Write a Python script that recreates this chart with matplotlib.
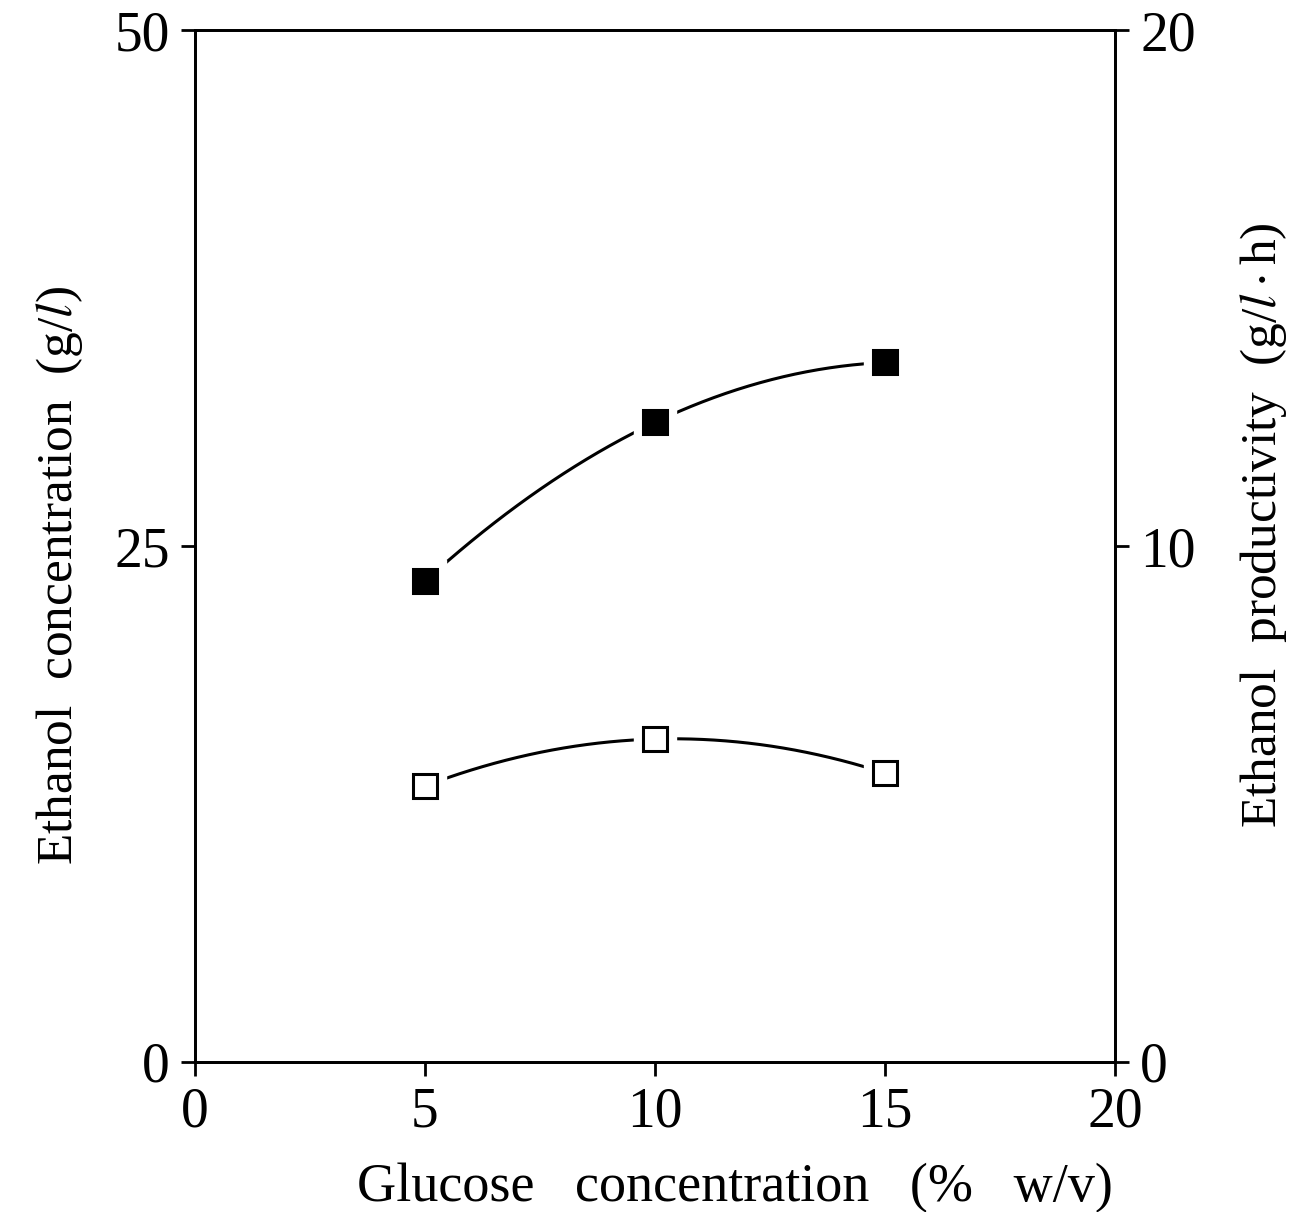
import numpy as np
import matplotlib.pyplot as plt

# glucose concentration (% w/v)
glucose = [5, 10, 15]
# ethanol concentration (g/l), filled squares, left axis
ethanol_conc = [23.3, 31.0, 33.9]
# ethanol productivity (g/l.h), open squares, right axis
ethanol_prod = [5.35, 6.26, 5.6]

plt.rcParams['font.family'] = ['Liberation Serif', 'DejaVu Serif']
plt.rcParams['mathtext.fontset'] = 'stix'

fig = plt.figure(figsize=(13.11, 12.12), dpi=100)
ax1 = fig.add_axes([0.1487, 0.1238, 0.7018, 0.8512])
ax2 = ax1.twinx()

def draw_series(ax, x, y, face):
    # smooth curve through the three points
    coef = np.polyfit(x, y, 2)
    xs = np.linspace(x[0], x[-1], 200)
    ax.plot(xs, np.polyval(coef, xs), color='black', lw=2.2, zorder=2)
    # white halo to leave a gap between curve and marker
    ax.plot(x, y, ls='none', marker='s', ms=30, color='white', zorder=3)
    ax.plot(x, y, ls='none', marker='s', ms=17, mfc=face, mec='black',
            mew=2.2, zorder=4)

draw_series(ax1, glucose, ethanol_conc, 'black')
draw_series(ax2, glucose, ethanol_prod, 'white')

ax1.set_xlim(0, 20)
ax1.set_ylim(0, 50)
ax2.set_ylim(0, 20)
ax1.set_xticks([0, 5, 10, 15, 20])
ax1.set_yticks([0, 25, 50])
ax2.set_yticks([0, 10, 20])

for ax in (ax1, ax2):
    for sp in ax.spines.values():
        sp.set_linewidth(2)
    ax.tick_params(direction='out', length=10, width=2, labelsize=40, pad=8)

ax1.set_xlabel('Glucose   concentration   (%   w/v)', fontsize=39)
ax1.set_ylabel('Ethanol  concentration  (g/$\\mathit{l}$)', fontsize=37)
ax2.set_ylabel('Ethanol  productivity  (g/$\\mathit{l}\\cdot$h)', fontsize=37)
ax1.xaxis.set_label_coords(0.587, -0.098)
ax1.yaxis.set_label_coords(-0.12, 0.472)
ax2.yaxis.set_label_coords(1.134, 0.52)

fig.savefig('out.png', dpi=100)
